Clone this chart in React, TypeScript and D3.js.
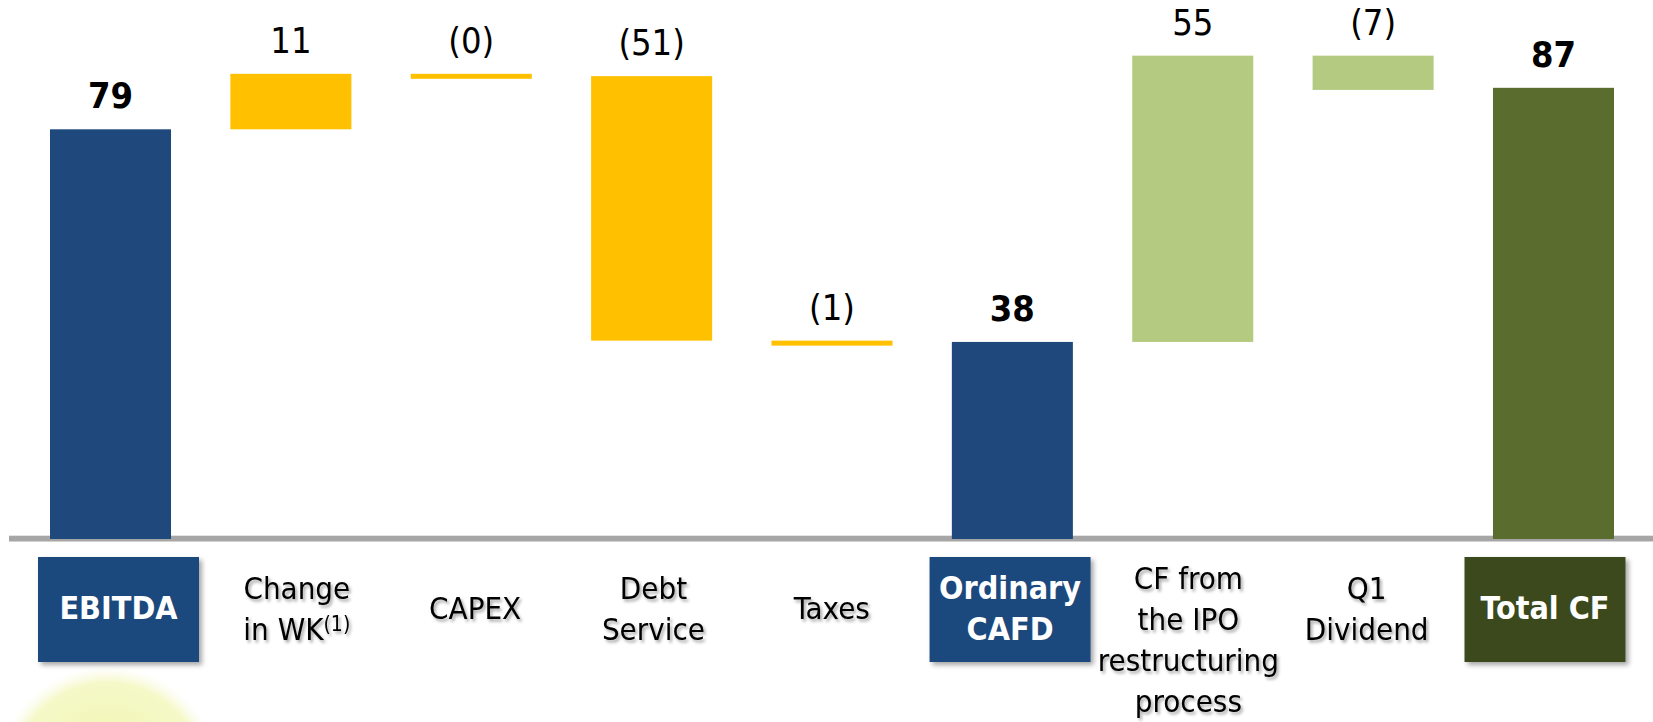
import React from "react";
import * as d3 from "d3";

const categories = [
  "EBITDA",
  "Change in WK",
  "CAPEX",
  "Debt Service",
  "Taxes",
  "Ordinary CAFD",
  "CF from the IPO restructuring process",
  "Q1 Dividend",
  "Total CF",
];
const values = [79, 10.7, -0.45, -51, -0.6, 38, 55.2, -6.6, 87];
const kinds = ["total", "delta", "delta", "delta", "delta", "total", "delta", "delta", "total"];
const groups = ["base", "ops", "ops", "ops", "ops", "base", "ipo", "ipo", "final"];
const labelLines = [
  ["EBITDA"],
  ["Change", "in WK"],
  ["CAPEX"],
  ["Debt", "Service"],
  ["Taxes"],
  ["Ordinary", "CAFD"],
  ["CF from", "the IPO", "restructuring", "process"],
  ["Q1", "Dividend"],
  ["Total CF"],
];
const footnotes = ["", "(1)", "", "", "", "", "", "", ""];

const barColor: Record<string, string> = {
  base: "#1F497D",
  ops: "#FFC000",
  ipo: "#B3CA80",
  final: "#5A6D2E",
};
const boxColor: Record<string, string> = {
  base: "#1F497D",
  final: "#3B4A1F",
};

const W = 1653;
const H = 722;
const FONT = "'DejaVu Sans Condensed', 'DejaVu Sans', sans-serif";

export default function App() {
  const x = d3.scaleBand<string>().domain(categories).range([50, 1614]).paddingInner(0.329).paddingOuter(0);
  const xl = d3.scalePoint<string>().domain(categories).range([118.5, 1545]);
  const y = d3.scaleLinear().domain([0, 100]).range([539, 20.4]);

  let running = 0;
  const bars = values.map((v, i) => {
    let start: number, end: number;
    if (kinds[i] === "total") {
      start = 0;
      end = v;
      running = v;
    } else {
      start = running;
      end = running + v;
      running = end;
    }
    const pStart = y(start);
    const pEnd = y(end);
    let top = Math.min(pStart, pEnd);
    let h = Math.abs(pEnd - pStart);
    if (h < 5) {
      h = 5;
      top = v < 0 ? pStart : pStart - 5;
    }
    const label = v < 0 ? `(${Math.round(-v)})` : `${Math.round(v)}`;
    return { i, cat: categories[i], v, top, h, label, kind: kinds[i], group: groups[i] };
  });

  const lineGap = 41;

  return (
    <div style={{ position: "absolute", left: 0, top: 0, width: W, height: H }}>
      <svg width={W} height={H} style={{ display: "block", background: "#fff" }}>
        <defs>
          <radialGradient id="blob" cx="50%" cy="50%" r="50%">
            <stop offset="0%" stopColor="#EBF18E" stopOpacity={0.8} />
            <stop offset="85%" stopColor="#F0F5AA" stopOpacity={0.65} />
            <stop offset="100%" stopColor="#F7F9D6" stopOpacity={0} />
          </radialGradient>
          <filter id="txtShadow" x="-20%" y="-20%" width="140%" height="160%">
            <feDropShadow dx={2} dy={2.5} stdDeviation={1.6} floodColor="#000" floodOpacity={0.35} />
          </filter>
          <filter id="boxShadow" x="-10%" y="-10%" width="125%" height="130%">
            <feDropShadow dx={3} dy={3} stdDeviation={2.5} floodColor="#000" floodOpacity={0.35} />
          </filter>
        </defs>

        {/* faint watermark */}
        <circle cx={108} cy={778} r={112} fill="url(#blob)" />

        {/* axis line */}
        <rect x={9} y={535.7} width={W - 9} height={5.8} fill="#A6A6A6" />

        {/* bars */}
        {bars.map((b) => (
          <rect
            key={b.cat}
            x={x(b.cat)}
            y={b.top}
            width={x.bandwidth()}
            height={b.h}
            fill={barColor[b.group]}
          />
        ))}

        {/* value labels */}
        {bars.map((b) => (
          <text
            key={"v" + b.cat}
            x={(x(b.cat) as number) + x.bandwidth() / 2}
            y={b.top - 21}
            textAnchor="middle"
            fontFamily={FONT}
            fontSize={36}
            fontWeight={b.kind === "total" ? "bold" : "normal"}
            fill="#000"
          >
            {b.label}
          </text>
        ))}

        {/* category labels */}
        {bars.map((b) => {
          const cx = xl(b.cat) as number;
          const lines = labelLines[b.i];
          const n = lines.length;
          const first = Math.max(619 - ((n - 1) * lineGap) / 2, 589);
          const boxed = b.kind === "total";
          return (
            <g key={"c" + b.cat}>
              {boxed && (
                <rect
                  x={cx - 80.5}
                  y={557}
                  width={161}
                  height={105}
                  fill={boxColor[b.group]}
                  filter="url(#boxShadow)"
                />
              )}
              {lines.map((ln, k) => (
                <text
                  key={k}
                  x={cx}
                  y={first + k * lineGap}
                  textAnchor="middle"
                  fontFamily={FONT}
                  fontSize={boxed ? 32 : 31}
                  fontWeight={boxed ? "bold" : "normal"}
                  fill={boxed ? "#FFFFFF" : "#000"}
                  filter={boxed ? undefined : "url(#txtShadow)"}
                >
                  <tspan>{ln}</tspan>
                  {k === n - 1 && footnotes[b.i] ? (
                    <tspan fontSize={21} dy={-9}>
                      {footnotes[b.i]}
                    </tspan>
                  ) : null}
                </text>
              ))}
            </g>
          );
        })}
      </svg>
    </div>
  );
}
